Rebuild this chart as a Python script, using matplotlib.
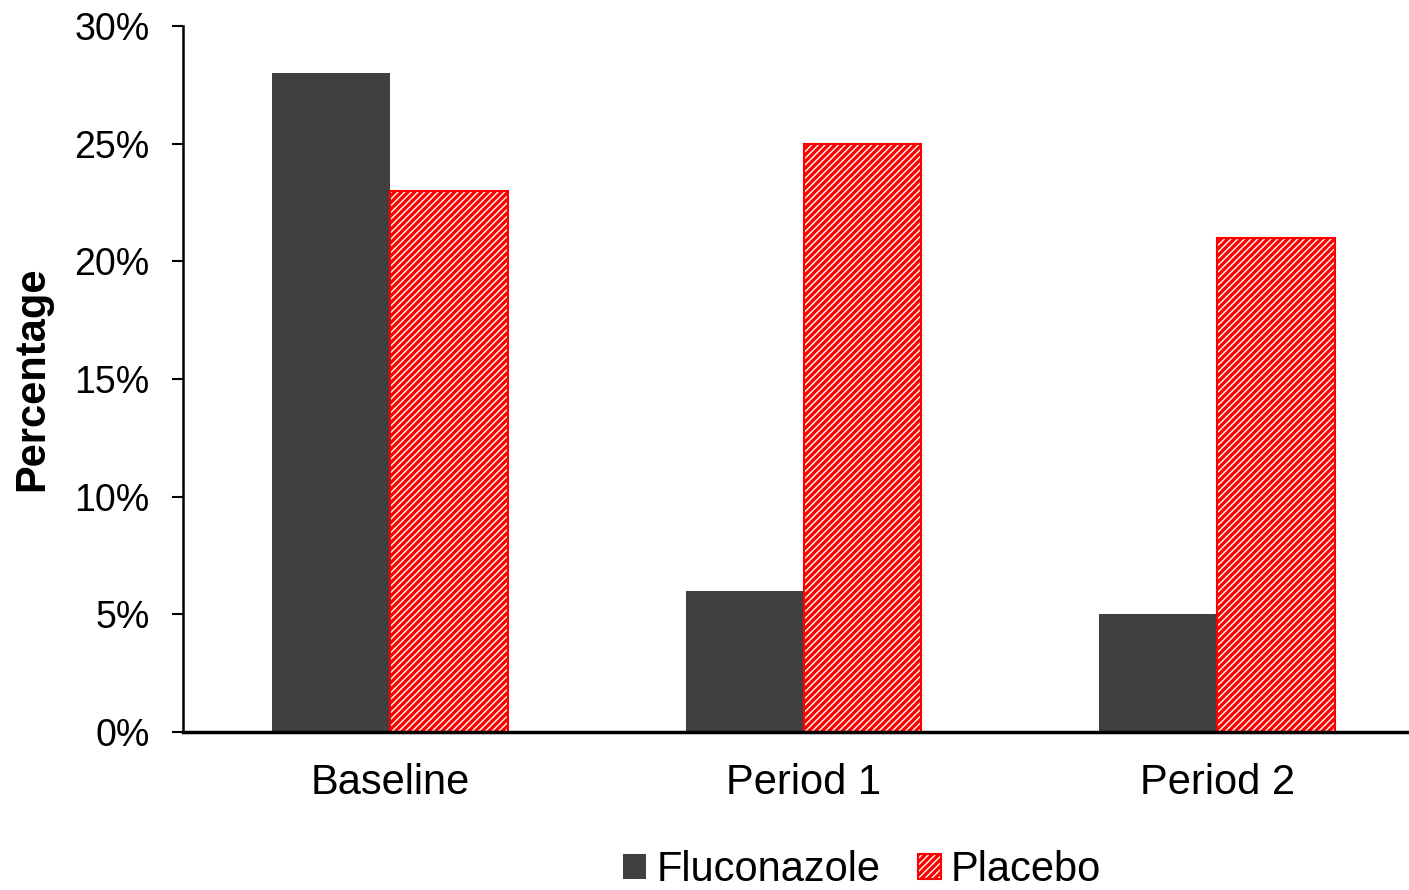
import matplotlib
matplotlib.use("Agg")
import matplotlib.pyplot as plt
import numpy as np
from matplotlib.ticker import FuncFormatter, MultipleLocator

categories = ["Baseline", "Period 1", "Period 2"]
fluconazole = [28, 6, 5]
placebo = [23, 25, 21]

plt.rcParams.update({
    "font.family": ["Liberation Sans", "DejaVu Sans"],
    "hatch.linewidth": 2.4,
})

fig = plt.figure(figsize=(14.09, 8.9), dpi=100)
ax = fig.add_axes([183 / 1409, 1 - 732 / 890, (1424 - 183) / 1409, (732 - 26) / 890])

x = np.arange(len(categories))
w = 0.285
ax.bar(x - w / 2, fluconazole, w, color="#404040", label="Fluconazole", zorder=2)
ax.bar(x + w / 2, placebo, w, facecolor="white", edgecolor="#ff0000", hatch="/////",
       linewidth=1.5, label="Placebo", zorder=2)

ax.set_xlim(-0.5, 2.5)
ax.set_ylim(0, 30)
ax.yaxis.set_major_locator(MultipleLocator(5))
ax.yaxis.set_major_formatter(FuncFormatter(lambda v, _: f"{v:.0f}%"))
ax.set_xticks(x)
ax.set_xticklabels(categories, fontsize=30)
ax.tick_params(axis="x", length=0, pad=22)
ax.tick_params(axis="y", labelsize=27, length=8, width=1.5, direction="out", pad=16)
ax.set_ylabel("Percentage", fontsize=30, fontweight="bold", labelpad=16)

for s in ("top", "right"):
    ax.spines[s].set_visible(False)
ax.spines["left"].set_linewidth(1.8)
ax.spines["bottom"].set_linewidth(2.5)

fig.legend(loc="center", bbox_to_anchor=(862 / 1409, 1 - 870 / 890), ncol=2,
           frameon=False, fontsize=30, handlelength=0.55, handleheight=0.55,
           handletextpad=0.25, columnspacing=0.9, borderaxespad=0)

fig.savefig("out.png", dpi=100)
